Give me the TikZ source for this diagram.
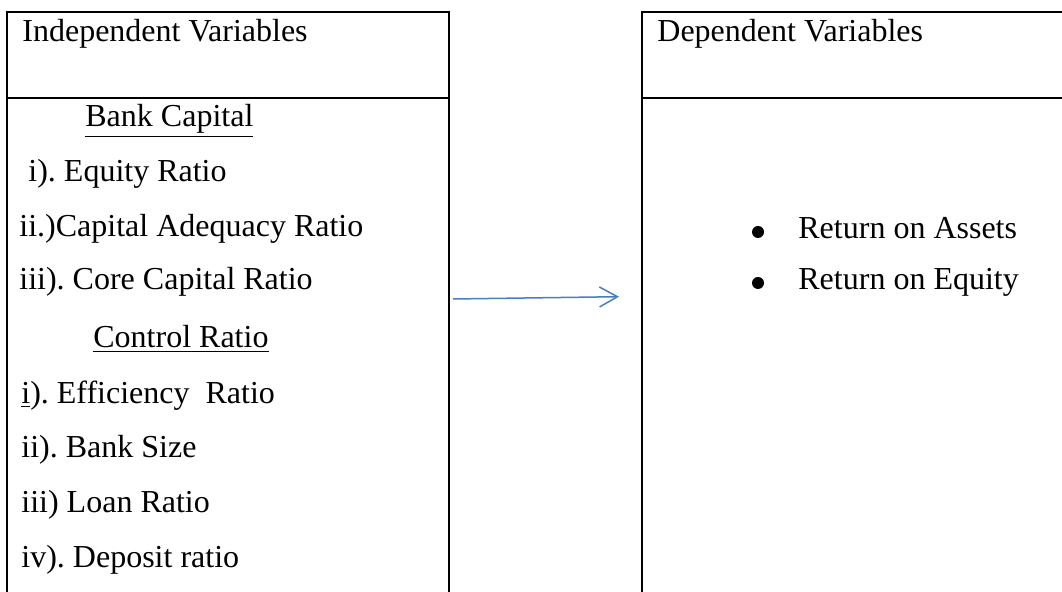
\documentclass[tikz,border=0pt]{standalone}
\usepackage{fontspec}
\setmainfont{Liberation Serif}
\usetikzlibrary{arrows.meta}
\frenchspacing
\tikzset{
  txt/.style={anchor=base west, inner sep=0pt, font=\fontsize{16}{19}\selectfont},
  boxline/.style={line width=1.1pt, black},
  conn/.style={line width=0.75pt, draw={rgb,255:red,74;green,126;blue,187}, -{Straight Barb[length=9pt,width=10pt,line width=0.75pt]}}
}
\begin{document}
\begin{tikzpicture}[x=0.5pt,y=-0.5pt]
\useasboundingbox (0,0) rectangle (1062,592);
\clip (0,0) rectangle (1062,592);
% left box
\draw[boxline] (7,620) -- (7,12) -- (449,12) -- (449,620);
\draw[boxline] (7,97.7) -- (449,97.7);
% right box
\draw[boxline] (641.7,620) -- (641.7,12) -- (1080,12);
\draw[boxline] (641.7,97.7) -- (1080,97.7);
% left texts
\node[txt] (indep) at (22,42) {Independent Variables};
\node[txt] (bankcap) at (85,127) {\underline{Bank Capital}};
\node[txt] (eq) at (20,182) {\ i). Equity Ratio};
\node[txt] (car) at (19,237) {ii.)Capital Adequacy Ratio};
\node[txt] (core) at (19,290) {iii). Core Capital Ratio};
\node[txt] (ctrl) at (93,348) {\underline{Control Ratio}};
\node[txt] (eff) at (21,404) {\underline{i}). Efficiency\ \ Ratio};
\node[txt] (size) at (21,458) {ii). Bank Size};
\node[txt] (loan) at (21,513) {iii) Loan Ratio};
\node[txt] (dep) at (21,568) {iv). Deposit ratio};
% right texts
\node[txt] (depv) at (657,42) {Dependent Variables};
\node[txt] (roa) at (798,239) {Return on Assets};
\node[txt] (roe) at (798,290) {Return on Equity};
\fill (758,232) circle (6);
\fill (758,283) circle (6);
% connector
\coordinate (as) at (453,299);
\coordinate (ae) at (619,296.7);
\draw[conn] (as) -- (ae);
\end{tikzpicture}
\end{document}
